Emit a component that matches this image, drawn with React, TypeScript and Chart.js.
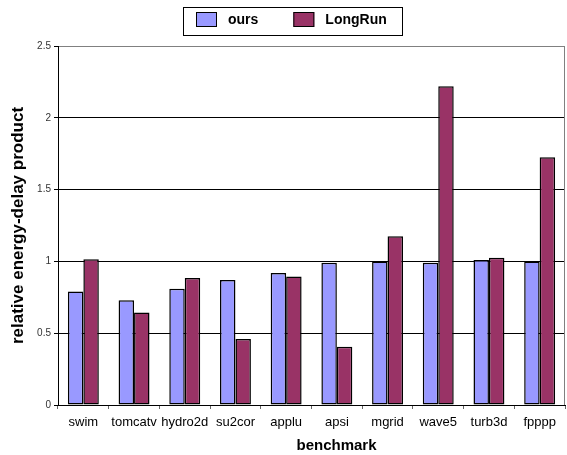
import React, { useEffect, useRef } from "react";
import { Chart, registerables } from "chart.js";

Chart.register(...registerables);

const categories = ["swim", "tomcatv", "hydro2d", "su2cor", "applu", "apsi", "mgrid", "wave5", "turb3d", "fpppp"];
const oursValues = [0.79, 0.73, 0.81, 0.87, 0.92, 0.99, 1.0, 0.99, 1.01, 1.0];
const longRunValues = [1.015, 0.645, 0.885, 0.46, 0.895, 0.405, 1.175, 2.22, 1.025, 1.725];
const seriesNames = ["ours", "LongRun"];
const seriesColors = ["#9999FF", "#993366"];
const yMin = 0;
const yMax = 2.5;
const yStep = 0.5;
const xTitle = "benchmark";
const yTitle = "relative energy-delay product";

const FONT = '"Liberation Sans", Arial, sans-serif';

const boxLegend = {
  id: "boxLegend",
  afterDraw(chart: any) {
    const ctx = chart.ctx as CanvasRenderingContext2D;
    ctx.save();
    ctx.font = `bold 14px ${FONT}`;
    const sw = 21, sh = 15, gapText = 11, gapItem = 35, padL = 12, padR = 16;
    const items = chart.data.datasets.map((d: any) => ({
      label: d.label as string,
      color: d.backgroundColor as string,
      w: ctx.measureText(d.label).width,
    }));
    const total =
      padL + padR + items.reduce((s: number, it: any) => s + sw + gapText + it.w, 0) + gapItem * (items.length - 1);
    const cx = 292.5;
    const left = Math.round(cx - total / 2) + 0.5;
    const top = 7.5;
    const height = 28;
    ctx.strokeStyle = "#000";
    ctx.lineWidth = 1;
    ctx.strokeRect(left, top, Math.round(total), height);
    let x = Math.round(left + padL);
    items.forEach((it: any) => {
      ctx.fillStyle = it.color;
      ctx.fillRect(x, 12, sw, sh);
      ctx.strokeStyle = "#000";
      ctx.strokeRect(x + 0.5, 12.5, sw - 1, sh - 1);
      ctx.fillStyle = "#000";
      ctx.textBaseline = "middle";
      ctx.textAlign = "left";
      ctx.fillText(it.label, x + sw + gapText, 20);
      x += sw + gapText + it.w + gapItem;
    });
    ctx.restore();
  },
};

const frame = {
  id: "frame",
  beforeDatasetsDraw(chart: any) {
    const { ctx, chartArea } = chart;
    ctx.save();
    ctx.strokeStyle = "#808080";
    ctx.lineWidth = 1;
    ctx.beginPath();
    const r = Math.round(chartArea.right) - 0.5;
    ctx.moveTo(r, chartArea.top);
    ctx.lineTo(r, chartArea.bottom);
    ctx.stroke();
    ctx.restore();
  },
};

const xTitlePlugin = {
  id: "xTitlePlugin",
  afterDraw(chart: any) {
    const { ctx, chartArea } = chart;
    ctx.save();
    ctx.font = `bold 15px ${FONT}`;
    ctx.fillStyle = "#000";
    ctx.textAlign = "center";
    ctx.textBaseline = "middle";
    ctx.fillText(xTitle, (chartArea.left + chartArea.right) / 2 + 25, 446);
    ctx.restore();
  },
};

export default function App() {
  const ref = useRef<HTMLCanvasElement>(null);

  useEffect(() => {
    document.body.style.margin = "0";
    const canvas = ref.current;
    if (!canvas) return;
    const chart = new Chart(canvas, {
      type: "bar",
      data: {
        labels: categories,
        datasets: [
          {
            label: seriesNames[0],
            data: oursValues,
            backgroundColor: seriesColors[0],
            borderColor: "#000",
            borderWidth: 1.5,
            borderSkipped: false,
            inflateAmount: 0,
            categoryPercentage: 0.61,
            barPercentage: 1,
          },
          {
            label: seriesNames[1],
            data: longRunValues,
            backgroundColor: seriesColors[1],
            borderColor: "#000",
            borderWidth: 1.5,
            borderSkipped: false,
            inflateAmount: 0,
            categoryPercentage: 0.61,
            barPercentage: 1,
          },
        ],
      },
      options: {
        animation: false,
        responsive: false,
        devicePixelRatio: 1,
        layout: { padding: { top: 46, right: 2, left: 0, bottom: 0 } },
        plugins: {
          legend: { display: false },
          tooltip: { enabled: false },
        },
        scales: {
          x: {
            offset: true,
            grid: {
              offset: true,
              drawOnChartArea: false,
              drawTicks: true,
              tickLength: 4,
              tickColor: "#666",
            },
            border: { color: "#000", width: 1 },
            ticks: {
              color: "#000",
              font: { family: FONT, size: 13 },
              padding: 6,
              maxRotation: 0,
              autoSkip: false,
            },
            title: { display: false, text: xTitle },
            afterFit: (scale: any) => {
              scale.height = 50;
            },
          },
          y: {
            min: yMin,
            max: yMax,
            ticks: {
              stepSize: yStep,
              color: "#333",
              font: { family: FONT, size: 10 },
              padding: 3,
              callback: (v: any) => String(Number(v)),
            },
            grid: {
              color: (c: any) => (c.tick && c.tick.value === yMax ? "#808080" : "#000"),
              tickColor: "#000",
              tickLength: 4,
              lineWidth: 1,
            },
            border: { color: "#000", width: 1 },
            title: {
              display: true,
              text: yTitle,
              color: "#000",
              font: { family: FONT, size: 17, weight: "bold", lineHeight: 1.2 },
              padding: { top: 8, bottom: 0 },
            },
            afterFit: (scale: any) => {
              scale.width = 58;
            },
          },
        },
      },
      plugins: [boxLegend, frame, xTitlePlugin],
    });
    return () => chart.destroy();
  }, []);

  return <canvas ref={ref} width={567} height={455} style={{ display: "block" }} />;
}
